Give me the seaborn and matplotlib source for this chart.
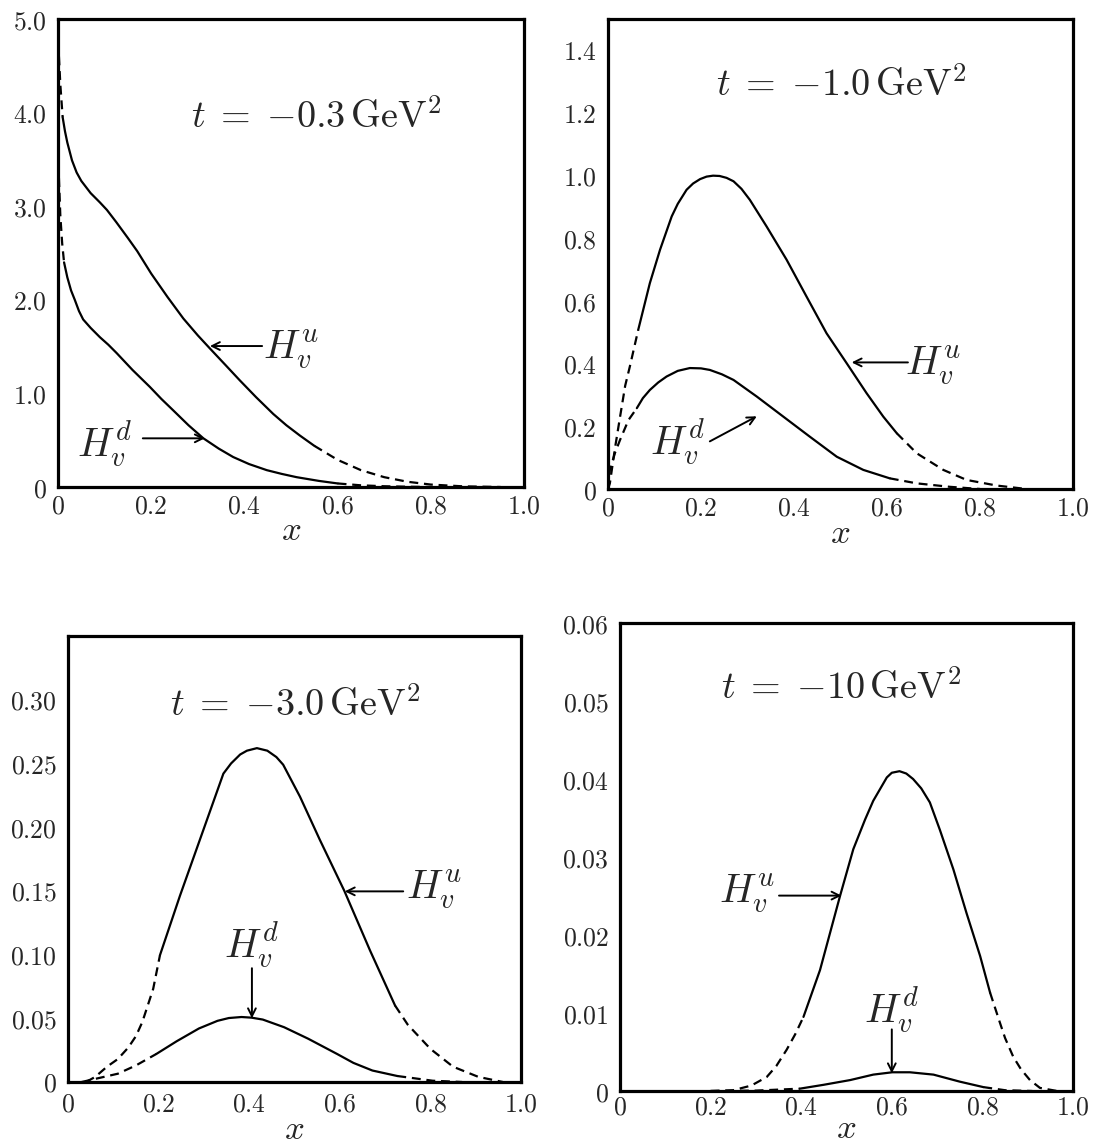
import numpy as np
import pandas as pd
import matplotlib
matplotlib.use("Agg")
import matplotlib.pyplot as plt
import seaborn as sns

sns.set_style("white")
plt.rcParams["mathtext.fontset"] = "cm"
plt.rcParams["font.family"] = ["DejaVu Serif"]

# ---------------- data ----------------
# t = -0.3 GeV^2
p1_u_x = [0.002, 0.005, 0.01, 0.015, 0.02, 0.03, 0.04, 0.05, 0.07, 0.09, 0.105, 0.125, 0.15, 0.17, 0.2,
          0.235, 0.269, 0.3, 0.326, 0.36, 0.39, 0.425, 0.462, 0.49, 0.519, 0.55, 0.6, 0.65, 0.7, 0.75,
          0.8, 0.87, 0.95]
p1_u_y = [4.6, 4.3, 3.95, 3.8, 3.68, 3.49, 3.36, 3.27, 3.14, 3.04, 2.96, 2.83, 2.66, 2.52, 2.28,
          2.03, 1.80, 1.62, 1.48, 1.30, 1.14, 0.96, 0.78, 0.66, 0.55, 0.44, 0.29, 0.18, 0.105, 0.056,
          0.026, 0.007, 0.0]
p1_u_solid = (0.01, 0.55)
p1_d_x = [0.002, 0.005, 0.009, 0.013, 0.02, 0.028, 0.036, 0.045, 0.054, 0.07, 0.09, 0.108, 0.126, 0.16,
          0.197, 0.222, 0.247, 0.28, 0.312, 0.345, 0.376, 0.41, 0.448, 0.48, 0.512, 0.56, 0.6, 0.65,
          0.7, 0.75, 0.8]
p1_d_y = [3.3, 2.9, 2.6, 2.4, 2.24, 2.1, 2.0, 1.88, 1.79, 1.7, 1.6, 1.52, 1.43, 1.25,
          1.07, 0.94, 0.82, 0.66, 0.52, 0.41, 0.32, 0.245, 0.18, 0.14, 0.105, 0.065, 0.038, 0.018,
          0.008, 0.003, 0.0]
p1_d_solid = (0.013, 0.6)

# t = -1.0 GeV^2
p2_u_x = [0.0, 0.004, 0.015, 0.026, 0.037, 0.047, 0.065, 0.09, 0.112, 0.137, 0.15, 0.169, 0.183, 0.198,
          0.212, 0.226, 0.24, 0.255, 0.27, 0.287, 0.305, 0.341, 0.384, 0.427, 0.47, 0.513, 0.556, 0.592,
          0.621, 0.664, 0.721, 0.771, 0.836, 0.9]
p2_u_y = [0.0, 0.018, 0.13, 0.231, 0.33, 0.391, 0.508, 0.657, 0.764, 0.87, 0.91, 0.955, 0.975, 0.989,
          0.997, 1.0, 0.999, 0.993, 0.982, 0.958, 0.923, 0.838, 0.732, 0.614, 0.497, 0.402, 0.306, 0.231,
          0.178, 0.114, 0.061, 0.029, 0.011, 0.0]
p2_u_solid = (0.065, 0.621)
p2_d_x = [0.0, 0.004, 0.015, 0.026, 0.044, 0.062, 0.075, 0.09, 0.108, 0.126, 0.15, 0.176, 0.2, 0.219,
          0.245, 0.27, 0.32, 0.377, 0.434, 0.492, 0.549, 0.606, 0.664, 0.735, 0.8]
p2_d_y = [0.0, 0.061, 0.115, 0.157, 0.22, 0.258, 0.29, 0.316, 0.34, 0.359, 0.377, 0.386, 0.385, 0.38,
          0.366, 0.348, 0.295, 0.231, 0.167, 0.103, 0.061, 0.034, 0.018, 0.007, 0.0]
p2_d_solid = (0.062, 0.606)

# t = -3.0 GeV^2
p3_u_x = [0.04, 0.06, 0.086, 0.11, 0.133, 0.15, 0.164, 0.188, 0.203, 0.247, 0.291, 0.343, 0.36, 0.38,
          0.395, 0.417, 0.44, 0.46, 0.475, 0.512, 0.556, 0.61, 0.667, 0.722, 0.75, 0.8, 0.85, 0.906,
          0.96]
p3_u_y = [0.0, 0.004, 0.012, 0.018, 0.027, 0.036, 0.047, 0.073, 0.0995, 0.146, 0.19, 0.242, 0.25, 0.257,
          0.26, 0.262, 0.26, 0.255, 0.249, 0.224, 0.19, 0.15, 0.103, 0.06, 0.045, 0.026, 0.012, 0.004,
          0.0]
p3_u_solid = (0.203, 0.722)
p3_d_x = [0.03, 0.11, 0.15, 0.195, 0.24, 0.289, 0.33, 0.355, 0.383, 0.405, 0.43, 0.477, 0.53, 0.594,
          0.63, 0.672, 0.727, 0.805, 0.87]
p3_d_y = [0.0, 0.0065, 0.013, 0.022, 0.032, 0.042, 0.048, 0.0502, 0.051, 0.0505, 0.049, 0.043, 0.034,
          0.022, 0.015, 0.009, 0.0047, 0.001, 0.0]
p3_d_solid = (0.195, 0.727)

# t = -10 GeV^2
p4_u_x = [0.2, 0.25, 0.29, 0.324, 0.345, 0.368, 0.387, 0.405, 0.4415, 0.4857, 0.515, 0.541, 0.559, 0.589,
          0.6, 0.617, 0.632, 0.647, 0.665, 0.684, 0.706, 0.736, 0.765, 0.795, 0.817, 0.839, 0.85, 0.868,
          0.885, 0.905, 0.927, 0.965]
p4_u_y = [0.0, 0.0001, 0.0007, 0.0018, 0.0032, 0.0053, 0.0073, 0.0095, 0.0155, 0.025, 0.031, 0.0348,
          0.0372, 0.0402, 0.0408, 0.041, 0.0407, 0.040, 0.0388, 0.037, 0.0335, 0.0284, 0.0228, 0.0173,
          0.0126, 0.0087, 0.0068, 0.0044, 0.0028, 0.0014, 0.0004, 0.0]
p4_u_solid = (0.405, 0.817)
p4_d_x = [0.2, 0.3, 0.397, 0.45, 0.508, 0.559, 0.601, 0.640, 0.692, 0.75, 0.802, 0.85, 0.91]
p4_d_y = [0.0, 0.00005, 0.0003, 0.0008, 0.0014, 0.0021, 0.0024, 0.0024, 0.0021, 0.0012, 0.0005, 0.0001, 0.0]
p4_d_solid = (0.397, 0.802)

x_ticks = [0, 0.2, 0.4, 0.6, 0.8, 1.0]
x_tick_labels = ["0", "0.2", "0.4", "0.6", "0.8", "1.0"]
p1_yticks = [0, 1, 2, 3, 4, 5]
p1_ylabels = ["0", "1.0", "2.0", "3.0", "4.0", "5.0"]
p2_yticks = [0, 0.2, 0.4, 0.6, 0.8, 1.0, 1.2, 1.4]
p2_ylabels = ["0", "0.2", "0.4", "0.6", "0.8", "1.0", "1.2", "1.4"]
p3_yticks = [0, 0.05, 0.10, 0.15, 0.20, 0.25, 0.30]
p3_ylabels = ["0", "0.05", "0.10", "0.15", "0.20", "0.25", "0.30"]
p4_yticks = [0, 0.01, 0.02, 0.03, 0.04, 0.05, 0.06]
p4_ylabels = ["0", "0.01", "0.02", "0.03", "0.04", "0.05", "0.06"]

titles = [r"$t\;{=}\;{-}0.3\,\mathrm{GeV}^2$", r"$t\;{=}\;{-}1.0\,\mathrm{GeV}^2$",
          r"$t\;{=}\;{-}3.0\,\mathrm{GeV}^2$", r"$t\;{=}\;{-}10\,\mathrm{GeV}^2$"]

# ---------------- layout ----------------
W, H = 1095, 1145
fig = plt.figure(figsize=(W / 100, H / 100), dpi=100)


def add_ax(l, r, t, b):
    return fig.add_axes([l / W, 1 - b / H, (r - l) / W, (b - t) / H])


axes = [add_ax(58, 524, 19, 487), add_ax(608, 1073, 19, 489),
        add_ax(68, 521, 636, 1082), add_ax(620, 1073, 623, 1091)]
x_pads = [4.5, 5.0, 6.5, 2.5]
xlabel_y = [-0.092, -0.094, -0.106, -0.078]

DASH = (0, (4, 2.6))
LW = 1.6


def draw_curve(ax, xs, ys, solid):
    df = pd.DataFrame({"x": xs, "y": ys})
    lo, hi = solid
    left = df[df.x <= lo]
    mid = df[(df.x >= lo) & (df.x <= hi)]
    right = df[df.x >= hi]
    if len(left) > 1:
        sns.lineplot(data=left, x="x", y="y", ax=ax, color="black", lw=LW, linestyle=DASH,
                     sort=False, estimator=None)
    sns.lineplot(data=mid, x="x", y="y", ax=ax, color="black", lw=LW, linestyle="-",
                 sort=False, estimator=None)
    if len(right) > 1:
        sns.lineplot(data=right, x="x", y="y", ax=ax, color="black", lw=LW, linestyle=DASH,
                     sort=False, estimator=None)


curves = [
    [(p1_u_x, p1_u_y, p1_u_solid), (p1_d_x, p1_d_y, p1_d_solid)],
    [(p2_u_x, p2_u_y, p2_u_solid), (p2_d_x, p2_d_y, p2_d_solid)],
    [(p3_u_x, p3_u_y, p3_u_solid), (p3_d_x, p3_d_y, p3_d_solid)],
    [(p4_u_x, p4_u_y, p4_u_solid), (p4_d_x, p4_d_y, p4_d_solid)],
]
yticks = [(p1_yticks, p1_ylabels, 5.0), (p2_yticks, p2_ylabels, 1.5),
          (p3_yticks, p3_ylabels, 0.35), (p4_yticks, p4_ylabels, 0.06)]
title_pos = [(0.554, 3.94), (0.502, 1.285), (0.501, 0.295), (0.488, 0.0515)]

# label position, arrow tail, arrow tip (data coords)
labels_u = [((0.5, 1.46), (0.438, 1.506), (0.326, 1.506)),
            ((0.699, 0.391), (0.645, 0.404), (0.524, 0.404)),
            ((0.808, 0.150), (0.74, 0.1496), (0.611, 0.1496)),
            ((0.28, 0.0252), (0.351, 0.02505), (0.489, 0.02505))]
labels_d = [((0.10, 0.45), (0.182, 0.52), (0.315, 0.52)),
            ((0.15, 0.147), (0.219, 0.152), (0.32, 0.232)),
            ((0.406, 0.107), (0.406, 0.0893), (0.406, 0.050)),
            ((0.60, 0.0102), (0.60, 0.0079), (0.60, 0.00227))]

for i, ax in enumerate(axes):
    for xs, ys, solid in curves[i]:
        draw_curve(ax, xs, ys, solid)
    ticks, tlabels, ytop = yticks[i]
    ax.set_xlim(0, 1.0)
    ax.set_ylim(0, ytop)
    ax.set_xticks(x_ticks)
    ax.set_xticklabels([f"${s}$" for s in x_tick_labels], fontsize=18.5)
    ax.set_yticks(ticks)
    ax.set_yticklabels([f"${s}$" for s in tlabels], fontsize=18.5)
    ax.tick_params(axis="both", direction="in", length=6, width=1.8, top=False, right=False,
                   color="black")
    ax.tick_params(axis="x", pad=x_pads[i])
    ax.tick_params(axis="y", pad=8)
    for sp in ax.spines.values():
        sp.set_visible(True)
        sp.set_linewidth(2.3)
        sp.set_color("black")
    ax.set_xlabel(r"$x$", fontsize=25)
    ax.xaxis.label.set_va("center")
    ax.xaxis.set_label_coords(0.5, xlabel_y[i])
    ax.set_ylabel("")
    ax.text(*title_pos[i], titles[i], fontsize=27.5, ha="center", va="center")
    for lab, (pos, tail, tip) in zip([r"$H_v^u$", r"$H_v^d$"], [labels_u[i], labels_d[i]]):
        ax.text(*pos, lab, fontsize=29, ha="center", va="center")
        ax.annotate("", xy=tip, xytext=tail,
                    arrowprops=dict(arrowstyle="->", lw=1.4, color="black",
                                    shrinkA=0, shrinkB=0, mutation_scale=14))

fig.savefig("out.png", dpi=100)
